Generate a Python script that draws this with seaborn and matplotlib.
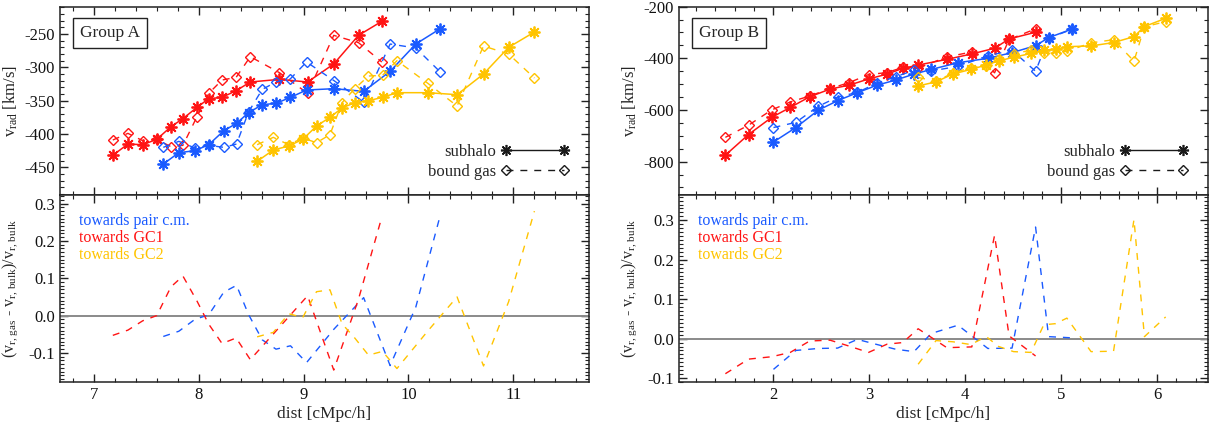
import matplotlib
matplotlib.use('Agg')
import matplotlib.pyplot as plt
import seaborn as sns
from matplotlib.ticker import MultipleLocator, FormatStrFormatter
from matplotlib.lines import Line2D

# ---------------- Group A ----------------
a_red_x = [7.183, 7.327, 7.468, 7.602, 7.737, 7.851, 7.985, 8.097, 8.224, 8.358, 8.493, 8.771, 9.039, 9.288, 9.524, 9.746]
a_red_sub = [-432, -415, -416, -408, -389, -377, -360, -347, -345, -335, -322, -318, -322, -295, -252, -231]
a_red_gas = [-409, -399, -410, -408, -419, -417, -374, -339, -319, -315, -284, -308, -339, -252, -263, -292]
a_red_rel = [-0.053, -0.039, -0.014, 0.0, 0.077, 0.106, 0.039, -0.023, -0.075, -0.060, -0.118, -0.031, 0.053, -0.146, 0.044, 0.264]

a_blue_x = [7.664, 7.812, 7.966, 8.097, 8.241, 8.362, 8.476, 8.607, 8.738, 8.876, 9.029, 9.291, 9.573, 9.825, 10.070, 10.303]
a_blue_sub = [-445, -428, -425, -416, -395, -384, -368, -356, -354, -345, -334, -332, -336, -306, -265, -242]
a_blue_gas = [-420, -411, -421, -417, -420, -415, -367, -333, -322, -317, -292, -320, -352, -265, -271, -307]
a_blue_rel = [-0.056, -0.042, -0.010, 0.002, 0.063, 0.081, 0.003, -0.065, -0.090, -0.081, -0.126, -0.036, 0.048, -0.134, 0.023, 0.269]

a_yel_x = [8.558, 8.712, 8.859, 8.993, 9.124, 9.252, 9.367, 9.488, 9.619, 9.753, 9.890, 10.185, 10.463, 10.715, 10.954, 11.200]
a_yel_sub = [-441, -424, -418, -408, -388, -375, -361, -353, -350, -345, -338, -338, -341, -310, -270, -247]
a_yel_gas = [-416, -405, -416, -406, -413, -401, -353, -332, -313, -312, -290, -324, -358, -268, -280, -316]
a_yel_rel = [-0.057, -0.045, 0.005, -0.005, 0.064, 0.069, -0.022, -0.060, -0.106, -0.096, -0.142, -0.041, 0.050, -0.135, 0.037, 0.280]

# ---------------- Group B ----------------
b_red_x = [1.503, 1.744, 1.984, 2.179, 2.381, 2.594, 2.792, 2.994, 3.188, 3.351, 3.511, 3.810, 4.070, 4.307, 4.458, 4.734]
b_red_sub = [-775, -695, -629, -590, -549, -519, -504, -480, -461, -439, -426, -404, -383, -361, -325, -299]
b_red_gas = [-706, -659, -600, -569, -546, -517, -494, -463, -455, -435, -437, -395, -375, -456, -327, -286]
b_red_rel = [-0.089, -0.052, -0.046, -0.035, -0.006, -0.004, -0.019, -0.035, -0.014, -0.010, 0.025, -0.023, -0.021, 0.262, 0.007, -0.044]

b_blue_x = [2.004, 2.237, 2.470, 2.672, 2.878, 3.083, 3.278, 3.468, 3.647, 3.926, 4.237, 4.489, 4.734, 4.870, 5.111]
b_blue_sub = [-724, -668, -601, -564, -533, -504, -484, -461, -443, -417, -400, -378, -351, -320, -287]
b_blue_gas = [-668, -648, -586, -550, -532, -496, -471, -446, -449, -431, -390, -369, -450, -322, -288]
b_blue_rel = [-0.078, -0.030, -0.025, -0.024, -0.002, -0.015, -0.027, -0.033, 0.013, 0.034, -0.025, -0.024, 0.283, 0.005, 0.002]

b_yel_x = [3.511, 3.697, 3.872, 4.058, 4.221, 4.349, 4.505, 4.687, 4.819, 4.943, 5.060, 5.312, 5.546, 5.759, 5.868, 6.089]
b_yel_sub = [-507, -491, -461, -443, -426, -410, -396, -381, -368, -365, -355, -352, -339, -316, -277, -245]
b_yel_gas = [-474, -489, -457, -436, -428, -402, -383, -368, -381, -379, -373, -340, -328, -411, -278, -258]
b_yel_rel = [-0.065, -0.005, -0.008, -0.015, 0.005, -0.020, -0.033, -0.035, 0.035, 0.038, 0.052, -0.033, -0.032, 0.302, 0.005, 0.055]

group_names = ['Group A', 'Group B']
legend_labels = ['subhalo', 'bound gas']
rel_labels = ['towards pair c.m.', 'towards GC1', 'towards GC2']

# ---------------- style ----------------
sns.set_theme(style='ticks')
plt.rcParams['font.family'] = ['Liberation Serif', 'DejaVu Serif']
plt.rcParams['mathtext.fontset'] = 'custom'
plt.rcParams['mathtext.rm'] = 'Liberation Serif'
plt.rcParams['mathtext.it'] = 'Liberation Serif:italic'
plt.rcParams['axes.unicode_minus'] = False

RED = '#ff1414'
BLUE = '#1a5aff'
YEL = '#ffc400'
AXC = '#222222'
DASH = (0, (5, 5))
AST = (8, 2, 0)

fig = plt.figure(figsize=(12.15, 4.25), dpi=100)
W = 529 / 1215
ax_tl = fig.add_axes([60 / 1215, 0.5419, W, 0.4424])
ax_bl = fig.add_axes([60 / 1215, 0.1012, W, 0.4407])
ax_tr = fig.add_axes([679 / 1215, 0.5419, W, 0.4424])
ax_br = fig.add_axes([679 / 1215, 0.1012, W, 0.4407])


def style(ax, xmaj, xmin, ymaj, ymin, labelx):
    ax.xaxis.set_major_locator(MultipleLocator(xmaj))
    ax.xaxis.set_minor_locator(MultipleLocator(xmin))
    ax.yaxis.set_major_locator(MultipleLocator(ymaj))
    ax.yaxis.set_minor_locator(MultipleLocator(ymin))
    ax.tick_params(which='both', direction='in', top=True, right=True,
                   colors=AXC, labelcolor='#111111', labelsize=12,
                   labelbottom=labelx)
    ax.tick_params(which='major', length=6, width=1)
    ax.tick_params(which='minor', length=3, width=0.8)
    for s in ax.spines.values():
        s.set_linewidth(1.1)
        s.set_color(AXC)


def top_panel(ax, series, name):
    for x, sub, gas, col in series:
        sns.lineplot(x=x, y=gas, ax=ax, color=col, estimator=None, sort=False,
                     marker='D', markersize=5.5, markerfacecolor='none',
                     markeredgecolor=col, markeredgewidth=1.0,
                     linestyle=DASH, linewidth=1.0)
        sns.lineplot(x=x, y=sub, ax=ax, color=col, estimator=None, sort=False,
                     marker=AST, markersize=8.5, markeredgecolor=col,
                     markeredgewidth=1.3, linewidth=1.1)
    ax.set_xlabel('')
    ax.set_ylabel(r'v$_{\rm rad}$ [km/s]', fontsize=12)
    ax.yaxis.set_label_coords(-0.076, 0.5)
    ax.text(0.038, 0.862, name, transform=ax.transAxes, fontsize=12.5,
            va='center', ha='left',
            bbox=dict(boxstyle='square,pad=0.4', fc='white', ec=AXC, lw=1.0))
    h1 = Line2D([], [], color='k', marker=AST, markersize=8, mew=1.2, lw=1.0)
    h2 = Line2D([], [], color='k', marker='D', markersize=5.5, mfc='none',
                mew=1.0, lw=1.0, ls=DASH)
    ax.legend([h1, h2], legend_labels, loc='lower right',
              bbox_to_anchor=(0.975, 0.045), frameon=False, markerfirst=False,
              numpoints=2, handlelength=4.1, fontsize=12, handletextpad=0.3,
              labelspacing=0.2, borderaxespad=0)


def bottom_panel(ax, series):
    ax.axhline(0, color='#8a8a8a', lw=1.4, zorder=1)
    for x, rel, col in series:
        sns.lineplot(x=x, y=rel, ax=ax, color=col, estimator=None, sort=False,
                     linestyle=DASH, linewidth=1.0)
    ax.set_xlabel('dist [cMpc/h]', fontsize=12.5, labelpad=2)
    ax.set_ylabel(r'(v$_{\rm r,\,gas}$ - v$_{\rm r,\,bulk}$)/v$_{\rm r,\,bulk}$', fontsize=11.5)
    ax.yaxis.set_label_coords(-0.076, 0.5)
    for i, (lab, col) in enumerate(zip(rel_labels, [BLUE, RED, YEL])):
        ax.text(0.036, 0.86 - i * 0.09, lab, color=col, transform=ax.transAxes,
                fontsize=11.5, va='center', ha='left')


# Group A
top_panel(ax_tl, [(a_red_x, a_red_sub, a_red_gas, RED),
                  (a_blue_x, a_blue_sub, a_blue_gas, BLUE),
                  (a_yel_x, a_yel_sub, a_yel_gas, YEL)], group_names[0])
bottom_panel(ax_bl, [(a_blue_x, a_blue_rel, BLUE),
                     (a_red_x, a_red_rel, RED),
                     (a_yel_x, a_yel_rel, YEL)])
for ax in (ax_tl, ax_bl):
    ax.set_xlim(6.68, 11.72)
ax_tl.set_ylim(-491, -209)
ax_bl.set_ylim(-0.178, 0.324)
style(ax_tl, 1, 0.2, 50, 10, False)
style(ax_bl, 1, 0.2, 0.1, 0.01, True)

# Group B
top_panel(ax_tr, [(b_red_x, b_red_sub, b_red_gas, RED),
                  (b_blue_x, b_blue_sub, b_blue_gas, BLUE),
                  (b_yel_x, b_yel_sub, b_yel_gas, YEL)], group_names[1])
bottom_panel(ax_br, [(b_blue_x, b_blue_rel, BLUE),
                     (b_red_x, b_red_rel, RED),
                     (b_yel_x, b_yel_rel, YEL)])
for ax in (ax_tr, ax_br):
    ax.set_xlim(1.02, 6.53)
ax_tr.set_ylim(-928, -200)
ax_br.set_ylim(-0.11, 0.365)
style(ax_tr, 1, 0.2, 200, 50, False)
style(ax_br, 1, 0.2, 0.1, 0.01, True)

for ax in (ax_bl, ax_br):
    ax.yaxis.set_major_formatter(FormatStrFormatter('%.1f'))

fig.savefig('out.png', dpi=100)
